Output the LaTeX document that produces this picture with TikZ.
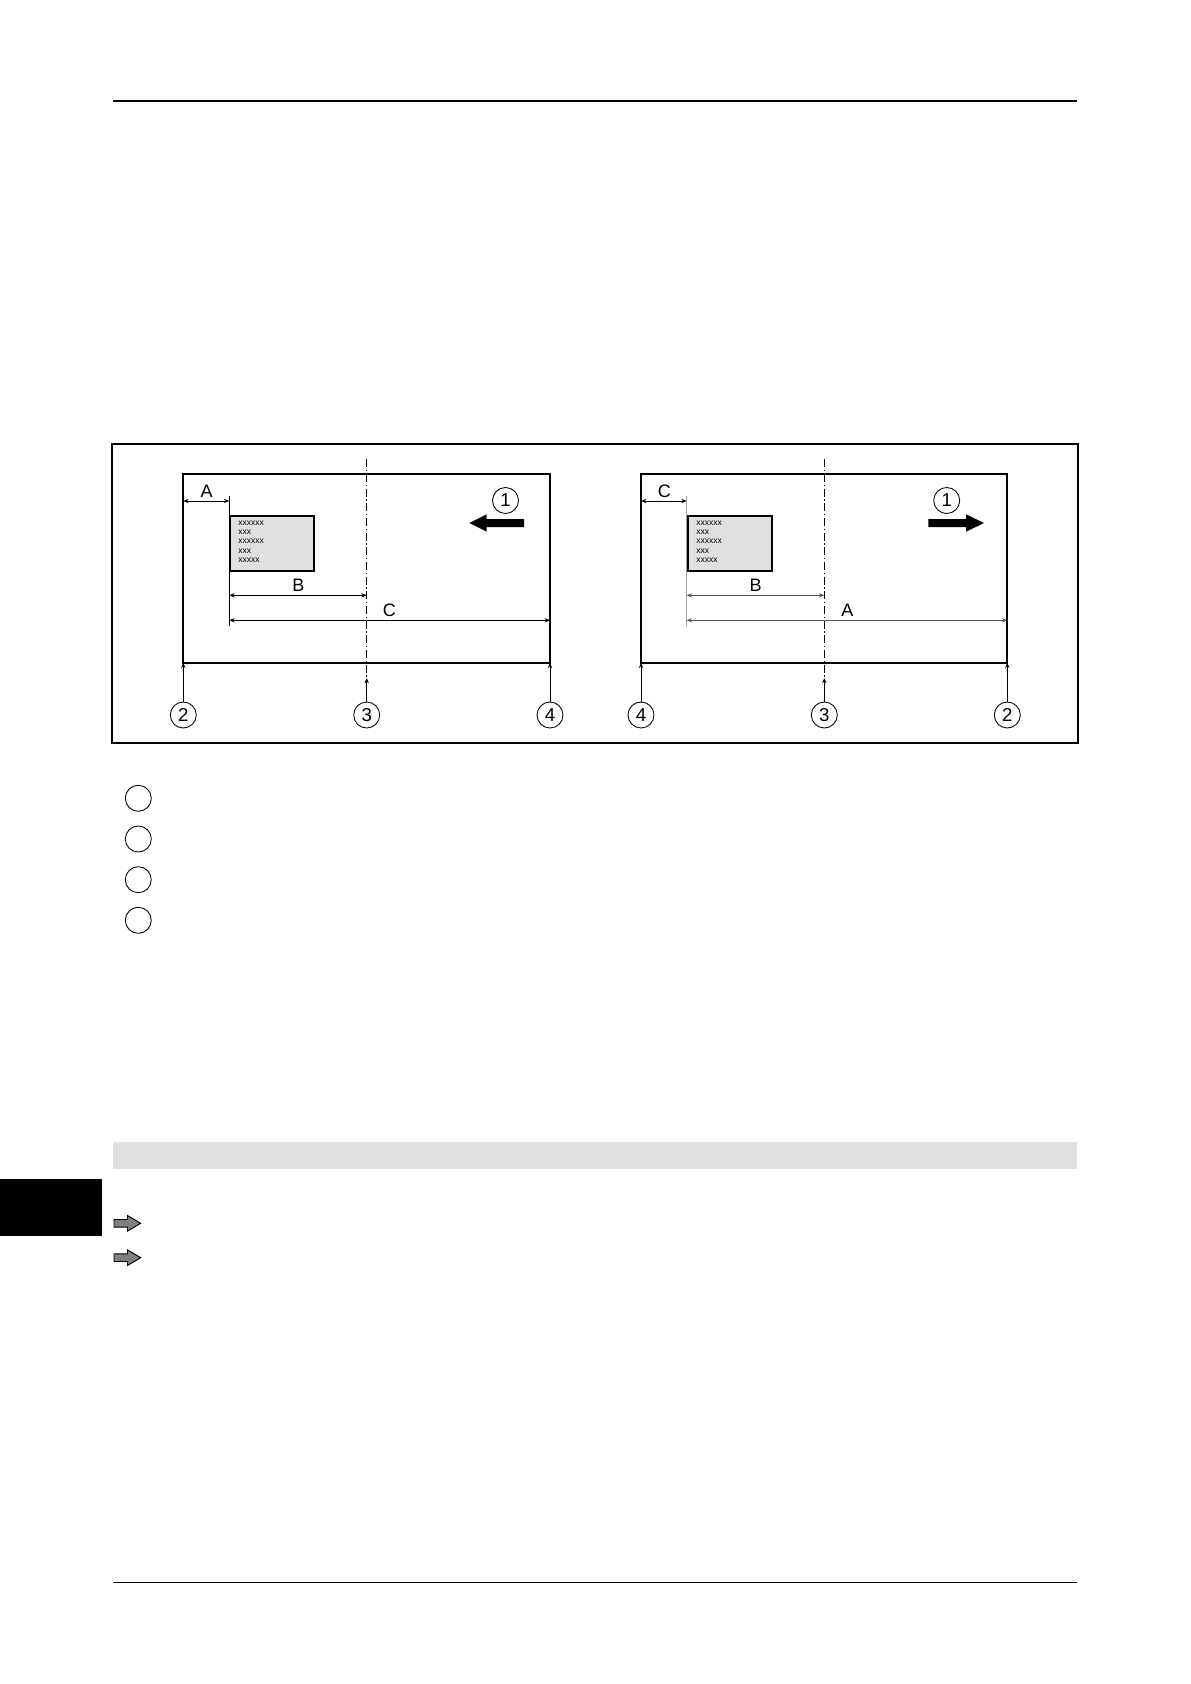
\documentclass[tikz,border=0pt]{standalone}
\usepackage{fontspec}
\setmainfont{Liberation Sans}
\usetikzlibrary{arrows.meta}
\begin{document}
\begin{tikzpicture}[x=0.75pt,y=-0.75pt,
  frame/.style={draw, line width=1.5pt},
  dimline/.style={line width=0.55pt, {Stealth[length=4pt,width=3.2pt]}-{Stealth[length=4pt,width=3.2pt]}},
  dimgray/.style={dimline, draw=black!65},
  extline/.style={line width=0.6pt},
  lbl/.style={font=\fontsize{13.5}{15}\selectfont, inner sep=0pt},
  num/.style={circle, draw, line width=0.65pt, minimum size=19.5pt, inner sep=0pt, font=\fontsize{14}{16}\selectfont},
  leader/.style={line width=0.6pt, -{Stealth[length=4pt,width=3.2pt]}},
  centerline/.style={line width=0.6pt, dash pattern=on 6pt off 2pt on 1pt off 2pt},
  labelbox/.style={draw, line width=1.4pt, fill=black!12},
  boxtext/.style={font=\fontsize{6.4}{7}\selectfont, align=left, inner sep=0pt, anchor=north west},
  bigarrow/.style={fill=black},
  hollowarrow/.style={fill=black!50, draw=black, line width=0.7pt, line join=miter}
]
\useasboundingbox (0,0) rectangle (1191,1684);
% header / footer
\draw[line width=1.1pt] (113.3,101) -- (1077.3,101);
\draw[line width=1.1pt] (113.3,1582.3) -- (1077.3,1582.3);
% outer frame
\draw[frame] (112.3,444.3) rectangle (1077.7,742.7);

% ---------------- left diagram ----------------
\draw[frame] (183.3,473.7) rectangle (550,662.7);
\coordinate (Lct) at (366.7,459.3);
\coordinate (Lcb) at (366.7,678);
\draw[centerline] (Lct) -- (Lcb);
\coordinate (Lext1) at (229.3,496);
\coordinate (Lext2) at (229.3,626);
\draw[extline] (Lext1) -- (Lext2);
\node[labelbox, minimum width=84*0.75pt, minimum height=55*0.75pt, anchor=north west] (Lbox) at (229.3,515.3) {};
\node[boxtext] (Lboxt) at (238,520.5) {xxxxxx\\xxx\\xxxxxx\\xxx\\xxxxx};
\coordinate (LA1) at (183.3,501); \coordinate (LA2) at (229.3,501);
\draw[dimline] (LA1) -- (LA2);
\node[lbl] (LAl) at (206.7,491) {A};
\coordinate (LB1) at (229.3,595.3); \coordinate (LB2) at (366.7,595.3);
\draw[dimline] (LB1) -- (LB2);
\node[lbl] (LBl) at (298.3,585.5) {B};
\coordinate (LC1) at (229.3,620.3); \coordinate (LC2) at (550,620.3);
\draw[dimline] (LC1) -- (LC2);
\node[lbl] (LCl) at (389.3,610.5) {C};
\node[num] (L1) at (505.5,500.5) {1};
\fill[bigarrow] (524,519) -- (486.7,519) -- (486.7,514.3) -- (469.3,523) -- (486.7,531.7) -- (486.7,527) -- (524,527) -- cycle;
\node[num] (L2) at (183.3,715) {2};
\node[num] (L3) at (366.7,715) {3};
\node[num] (L4) at (550,715) {4};
\coordinate (L2t) at (183.3,662.7);
\coordinate (L4t) at (550,662.7);
\draw[leader] (L2) -- (L2t);
\draw[leader] (L3) -- (Lcb);
\draw[leader] (L4) -- (L4t);

% ---------------- right diagram ----------------
\draw[frame] (641,473.7) rectangle (1007.3,662.7);
\coordinate (Rct) at (824.3,459.3);
\coordinate (Rcb) at (824.3,678);
\draw[centerline] (Rct) -- (Rcb);
\coordinate (Rext1) at (686.7,496);
\coordinate (Rext2) at (686.7,626);
\draw[extline, draw=black!35, line width=1pt] (Rext1) -- (Rext2);
\node[labelbox, minimum width=84.3*0.75pt, minimum height=55*0.75pt, anchor=north west] (Rbox) at (686.7,515.3) {};
\node[boxtext] (Rboxt) at (696,520.5) {xxxxxx\\xxx\\xxxxxx\\xxx\\xxxxx};
\coordinate (RC1) at (641,501); \coordinate (RC2) at (686.7,501);
\draw[dimline] (RC1) -- (RC2);
\node[lbl] (RCl) at (664.3,491) {C};
\coordinate (RB1) at (686.7,595.3); \coordinate (RB2) at (824.3,595.3);
\draw[dimgray] (RB1) -- (RB2);
\node[lbl] (RBl) at (755.7,585.5) {B};
\coordinate (RA1) at (686.7,620.3); \coordinate (RA2) at (1007.3,620.3);
\draw[dimgray] (RA1) -- (RA2);
\node[lbl] (RAl) at (847.3,610.5) {A};
\node[num] (R1) at (946.7,500.5) {1};
\fill[bigarrow] (928.3,519) -- (966,519) -- (966,514.3) -- (984,523) -- (966,531.7) -- (966,527) -- (928.3,527) -- cycle;
\node[num] (R4) at (641,715) {4};
\node[num] (R3) at (824.3,715) {3};
\node[num] (R2) at (1007.3,715) {2};
\coordinate (R4t) at (641,662.7);
\coordinate (R2t) at (1007.3,662.7);
\draw[leader] (R4) -- (R4t);
\draw[leader] (R3) -- (Rcb);
\draw[leader] (R2) -- (R2t);

% ---------------- legend ----------------
\node[num] (K1) at (138.3,798.3) {};
\node[num] (K2) at (138.3,839) {};
\node[num] (K3) at (138.3,879.7) {};
\node[num] (K4) at (138.3,920.3) {};

% gray bar and black tab
\fill[black!12] (113.3,1141.7) rectangle (1076.7,1169.3);
\fill[black] (0,1179) rectangle (101.7,1235.7);

% hollow arrows
\draw[hollowarrow] (114,1219.5) -- (127.5,1219.5) -- (127.5,1215.5) -- (140.7,1223.3) -- (127.5,1231.1) -- (127.5,1227.1) -- (114,1227.1) -- cycle;
\draw[hollowarrow] (114,1253.9) -- (127.5,1253.9) -- (127.5,1249.9) -- (140.7,1257.7) -- (127.5,1265.5) -- (127.5,1261.5) -- (114,1261.5) -- cycle;
\end{tikzpicture}
\end{document}
